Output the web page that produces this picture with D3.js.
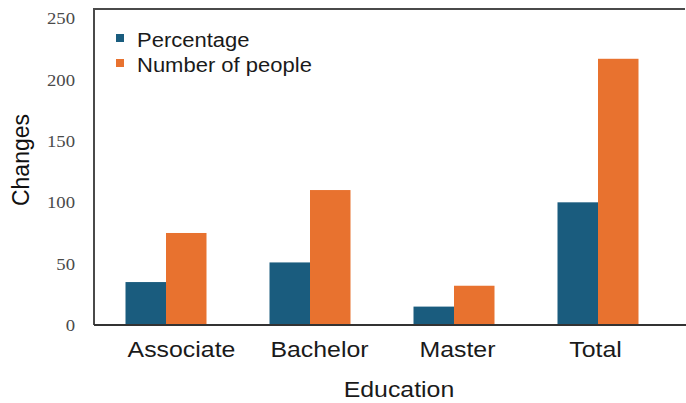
<!DOCTYPE html>
<html>
<head>
  <meta charset="utf-8">
  <title>Changes by Education</title>
  <script src="https://cdnjs.cloudflare.com/ajax/libs/d3/7.8.5/d3.min.js"></script>
  <style>
    body { margin: 0; background: #fff; }
    svg text { font-family: "Liberation Sans", Arial, sans-serif; fill: #1a1a1a; }
  </style>
</head>
<body>
  <div id="viz"></div>
  <script>
    // data
    var categories = ["Associate", "Bachelor", "Master", "Total"];
    var seriesNames = ["Percentage", "Number of people"];
    var percentage = [35, 51, 15, 100];
    var people = [75, 110, 32, 217];
    var yTicks = [0, 50, 100, 150, 200, 250];

    var width = 686,
        height = 403,
        plotLeft = 94,
        plotTop = 9,
        plotBottom = 325,
        plotRight = 685,
        stretch = 1.13; // source picture looks stretched sideways

    var colors = ["#1a5c7e", "#e8722f"];

    var svg = d3.select("#viz")
        .append("svg")
        .attr("width", width)
        .attr("height", height);

    var y = d3.scaleLinear().domain([0, 250]).range([plotBottom, 18.3]);

    // bars sit on this scale
    var x0 = d3.scaleBand().domain(categories).range([plotLeft, 670])
        .paddingInner(0.4375).paddingOuter(0.21875);
    var x1 = d3.scaleBand().domain(seriesNames).range([0, x0.bandwidth()]);

    // category labels are spaced a little differently in the source
    var xLab = d3.scaleBand().domain(categories).range([112.5, 664.5]);

    function widen(sel, k) {
      sel.each(function () {
        var w = this.getComputedTextLength();
        d3.select(this).attr("textLength", w * k).attr("lengthAdjust", "spacingAndGlyphs");
      });
    }

    // frame
    svg.append("path")
        .attr("d", "M" + plotRight + "," + plotTop + "H" + plotLeft + "V" + plotBottom)
        .attr("fill", "none")
        .attr("stroke", "#4a4a4a")
        .attr("stroke-width", 2);

    // bars
    var rows = categories.map(function (c, i) {
      return { cat: c, values: [percentage[i], people[i]] };
    });

    var groups = svg.selectAll("g.group")
        .data(rows)
        .enter()
        .append("g")
        .attr("class", "group")
        .attr("transform", function (d) { return "translate(" + x0(d.cat) + ",0)"; });

    groups.selectAll("rect")
        .data(function (d) { return d.values.map(function (v, j) { return { name: seriesNames[j], v: v, j: j }; }); })
        .enter()
        .append("rect")
        .attr("x", function (d) { return x1(d.name); })
        .attr("y", function (d) { return y(d.v); })
        .attr("width", x1.bandwidth())
        .attr("height", function (d) { return plotBottom - y(d.v); })
        .attr("fill", function (d) { return colors[d.j]; });

    // x axis line
    svg.append("line")
        .attr("x1", plotLeft).attr("x2", width)
        .attr("y1", plotBottom).attr("y2", plotBottom)
        .attr("stroke", "#333")
        .attr("stroke-width", 2);

    // y tick labels
    svg.selectAll("text.tick-label")
        .data(yTicks)
        .enter()
        .append("text")
        .attr("class", "tick-label")
        .attr("x", 75)
        .attr("y", function (d) { return y(d) + 6; })
        .attr("text-anchor", "end")
        .style("font-family", "'Liberation Serif', 'Times New Roman', serif")
        .style("fill", "#4a4a4a")
        .style("font-size", "17px")
        .text(function (d) { return d; })
        .call(widen, 1.1);

    // category labels
    svg.selectAll("text.cat")
        .data(categories)
        .enter()
        .append("text")
        .attr("class", "cat")
        .attr("x", function (d) { return xLab(d) + xLab.bandwidth() / 2; })
        .attr("y", 357)
        .attr("text-anchor", "middle")
        .style("font-size", "22px")
        .text(function (d) { return d; })
        .call(widen, stretch);

    // axis titles
    svg.append("text")
        .attr("x", 399)
        .attr("y", 397)
        .attr("text-anchor", "middle")
        .style("font-size", "22px")
        .text("Education")
        .call(widen, stretch);

    svg.append("text")
        .attr("transform", "translate(29,160) rotate(-90)")
        .attr("text-anchor", "middle")
        .style("font-size", "23px")
        .style("fill", "#111")
        .text("Changes");

    // legend
    var legend = svg.selectAll("g.legend")
        .data(seriesNames)
        .enter()
        .append("g")
        .attr("class", "legend")
        .attr("transform", function (d, i) { return "translate(116," + (34 + i * 25) + ")"; });

    legend.append("rect")
        .attr("width", 8)
        .attr("height", 8)
        .attr("fill", function (d, i) { return colors[i]; });

    legend.append("text")
        .attr("x", 21)
        .attr("y", 13)
        .style("font-size", "20px")
        .text(function (d) { return d; })
        .call(widen, 1.1);
  </script>
</body>
</html>
